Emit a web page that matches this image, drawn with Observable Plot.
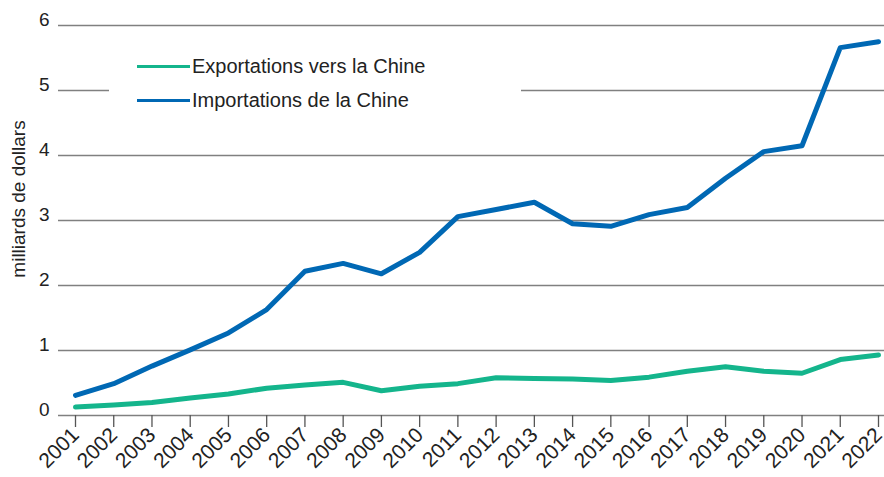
<!DOCTYPE html>
<html>
<head>
<meta charset="utf-8">
<script src="https://cdn.jsdelivr.net/npm/d3@7"></script>
<script src="https://cdn.jsdelivr.net/npm/@observablehq/plot@0.6"></script>
<style>
  body { margin: 0; background: #fff; font-family: "Liberation Sans", Arial, sans-serif; }
  #wrap { position: relative; width: 884px; height: 477px; }
  #legend { position: absolute; left: 109px; top: 50px; width: 412px; height: 72px; background: #fff; }
  .item { position: absolute; left: 28px; display: flex; align-items: center; font-size: 20px; color: #222; }
  .sw { width: 53px; height: 3px; margin-right: 2px; }
  #ylabel { position: absolute; left: 19px; top: 199px; transform: translate(-50%, -50%) rotate(-90deg); white-space: nowrap; font-size: 19px; color: #222; }
  #wrap svg g[aria-label="x-axis tick label"], #wrap svg g[aria-label="x-axis tick label"] text { font-size: 21px !important; }
  #wrap svg g[aria-label="y-axis tick label"], #wrap svg g[aria-label="y-axis tick label"] text { font-size: 19px !important; }
</style>
</head>
<body>
<div id="wrap"></div>
<script>
const years = d3.range(2001, 2023);
const exportations = [0.13, 0.16, 0.20, 0.27, 0.33, 0.42, 0.47, 0.51, 0.38, 0.45, 0.49, 0.58, 0.57, 0.56, 0.54, 0.59, 0.68, 0.75, 0.68, 0.65, 0.86, 0.93];
const importations = [0.31, 0.49, 0.76, 1.01, 1.27, 1.63, 2.22, 2.34, 2.18, 2.51, 3.06, 3.17, 3.28, 2.95, 2.91, 3.09, 3.20, 3.65, 4.06, 4.15, 5.66, 5.75];
const seriesNames = ["Exportations vers la Chine", "Importations de la Chine"];
const colors = ["#14b58c", "#0068b4"];
const yTicks = [0, 1, 2, 3, 4, 5, 6];
const yLabel = "milliards de dollars";

const rows = [];
years.forEach((y, i) => {
  rows.push({year: y, value: exportations[i], series: seriesNames[0]});
  rows.push({year: y, value: importations[i], series: seriesNames[1]});
});

const chart = Plot.plot({
  width: 884,
  height: 477,
  marginLeft: 58,
  marginRight: 0,
  marginTop: 25,
  marginBottom: 62,
  style: { fontFamily: "Liberation Sans, Arial, sans-serif", fontSize: "18px", color: "#222", background: "#fff" },
  x: { domain: [2001, 2022], range: [75, 878] },
  y: { domain: [0, 6] },
  color: { domain: seriesNames, range: colors },
  marks: [
    Plot.ruleY(yTicks, { stroke: "#808080", strokeWidth: 1.3 }),
    Plot.axisY(yTicks, { tickSize: 0, tickPadding: 9, tickFormat: "d", label: null, dy: -6 }),
    Plot.axisX(years, { tickFormat: "d", tickSize: 12, tickRotate: -45, stroke: "#555", strokeWidth: 1.3, label: null, tickPadding: 4 }),
    Plot.line(rows, { x: "year", y: "value", z: "series", stroke: "series", strokeWidth: 5, strokeLinecap: "round", strokeLinejoin: "round" })
  ]
});

const wrap = document.getElementById("wrap");
wrap.appendChild(chart);
const legend = document.createElement("div");
legend.id = "legend";
seriesNames.forEach((name, i) => {
  const item = document.createElement("div");
  item.className = "item";
  item.style.top = (i === 0 ? 5 : 39) + "px";
  const sw = document.createElement("span");
  sw.className = "sw";
  sw.style.background = colors[i];
  const t = document.createElement("span");
  t.textContent = name;
  item.appendChild(sw);
  item.appendChild(t);
  legend.appendChild(item);
});
wrap.appendChild(legend);
const yl = document.createElement("div");
yl.id = "ylabel";
yl.textContent = yLabel;
wrap.appendChild(yl);
</script>
</body>
</html>
